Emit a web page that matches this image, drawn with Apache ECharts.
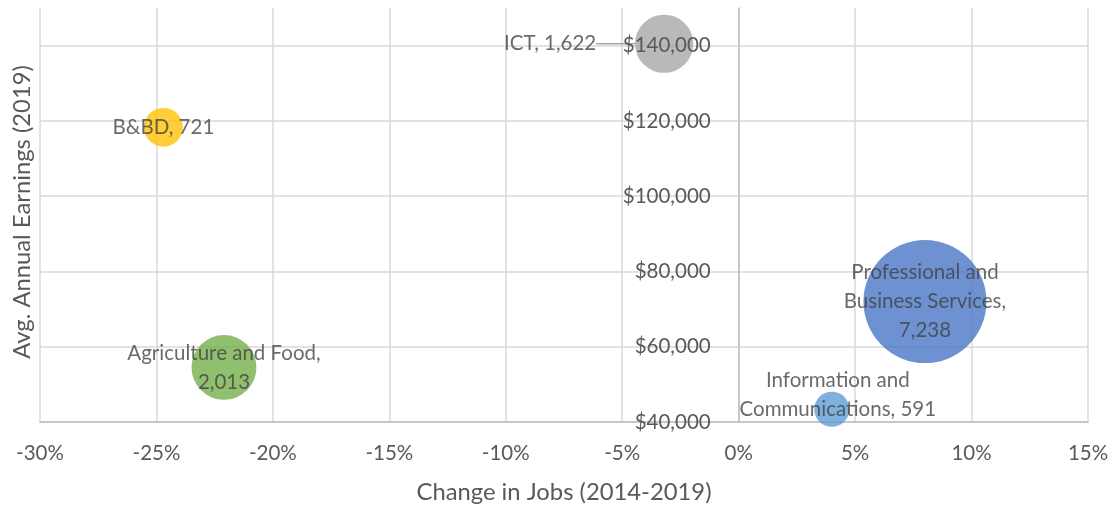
<!DOCTYPE html>
<html>
<head>
<meta charset="utf-8">
<script src="https://cdn.jsdelivr.net/npm/echarts@6/dist/echarts.min.js"></script>
<style>
  html, body { margin: 0; padding: 0; background: #ffffff; }
  #chart { width: 1114px; height: 508px; }
</style>
</head>
<body>
<div id="chart"></div>
<script>
// Industry clusters: job change 2014-2019 vs. average annual earnings, bubble = employment
const sectors = ['ICT', 'B&BD', 'Agriculture and Food', 'Professional and Business Services', 'Information and Communications'];
const labelNames = ['ICT', 'B&BD', 'Agriculture and Food', 'Professional and\nBusiness Services', 'Information and\nCommunications'];
const labelSeparators = [', ', ', ', ',\n', ',\n', ', '];
const jobChange = [-3.2, -24.7, -22.1, 8.0, 4.0];          // percent
const earnings = [140500, 118300, 54500, 72000, 43400];     // USD
const employment = [1622, 721, 2013, 7238, 591];            // jobs (bubble size)
const xTicks = { min: -30, max: 15, step: 5 };
const yTicks = { min: 40000, max: 150000, step: 20000 };

const colors = ['#A5A5A5', '#FFC000', '#70AD47', '#4472C4', '#5B9BD5'];
const labelShift = [{ dx: -114, dy: 0 }, null, null, null, { dx: 6, dy: -14 }];

const FONT = 'Lato';
const fmtNum = n => n.toLocaleString('en-US');

const W = 1114;
const gridBox = { left: 40, right: 26, top: 8, bottom: 86 };
// the value axis crosses the category axis at 0% change
const plotWidth = W - gridBox.left - gridBox.right;
const zeroOffset = -plotWidth * (0 - xTicks.min) / (xTicks.max - xTicks.min);

const chart = echarts.init(document.getElementById('chart'), null, { renderer: 'canvas' });

const series = sectors.map((name, i) => {
  const s = {
    name: name,
    type: 'scatter',
    xAxisIndex: 0,
    yAxisIndex: 0,
    z: 2,
    clip: true,
    data: [[jobChange[i], earnings[i], employment[i]]],
    symbolSize: d => 1.446 * Math.sqrt(d[2]),
    itemStyle: { color: colors[i], opacity: 0.78 },
    emphasis: { disabled: true },
    label: {
      show: true,
      position: 'inside',
      formatter: () => labelNames[i] + labelSeparators[i] + fmtNum(employment[i]),
      color: '#404040',
      fontFamily: FONT,
      fontSize: 20.5,
      lineHeight: 29,
      align: 'center'
    }
  };
  if (labelShift[i]) {
    s.labelLayout = { dx: labelShift[i].dx, dy: labelShift[i].dy };
  }
  if (i === 0) {
    s.labelLine = { show: true, lineStyle: { color: '#A6A6A6', width: 1.5 } };
  }
  return s;
});

const option = {
  backgroundColor: '#ffffff',
  animation: false,
  grid: Object.assign({ containLabel: false, outerBoundsMode: 'none' }, gridBox),
  xAxis: {
    type: 'value',
    min: xTicks.min,
    max: xTicks.max,
    interval: xTicks.step,
    name: 'Change in Jobs (2014-2019)',
    nameLocation: 'middle',
    nameGap: 58,
    nameTextStyle: { fontFamily: FONT, fontSize: 23.8, color: '#595959' },
    axisLine: { show: true, onZero: false, lineStyle: { color: '#BFBFBF', width: 1.5 } },
    axisTick: { show: false },
    axisLabel: { formatter: '{value}%', fontFamily: FONT, fontSize: 20.5, color: '#595959', margin: 21 },
    splitLine: { show: true, lineStyle: { color: '#D9D9D9', width: 1.5 } }
  },
  yAxis: [
    {
      // grid lines only, drawn beneath the bubbles
      type: 'value',
      min: yTicks.min,
      max: yTicks.max,
      interval: yTicks.step,
      axisLine: { show: false, onZero: false },
      axisTick: { show: false },
      axisLabel: { show: false },
      splitLine: { show: true, showMaxLine: false, lineStyle: { color: '#D9D9D9', width: 1.5 } }
    },
    {
      // axis line and dollar labels at 0% job change, drawn above the bubbles
      type: 'value',
      min: yTicks.min,
      max: yTicks.max,
      interval: yTicks.step,
      position: 'left',
      offset: zeroOffset,
      z: 5,
      axisLine: { show: true, onZero: false, lineStyle: { color: '#BFBFBF', width: 1.5 } },
      axisTick: { show: false },
      axisLabel: {
        showMaxLabel: false,
        formatter: v => '$' + fmtNum(v),
        fontFamily: FONT, fontSize: 20.5, color: '#595959', margin: 28
      },
      splitLine: { show: false }
    }
  ],
  graphic: [
    {
      type: 'text',
      x: 22,
      y: 212,
      rotation: Math.PI / 2,
      style: {
        text: 'Avg. Annual Earnings (2019)',
        fontFamily: FONT,
        fontSize: 23.8,
        fill: '#595959',
        align: 'center',
        verticalAlign: 'middle'
      }
    }
  ],
  series: series
};

chart.setOption(option);
</script>
</body>
</html>
